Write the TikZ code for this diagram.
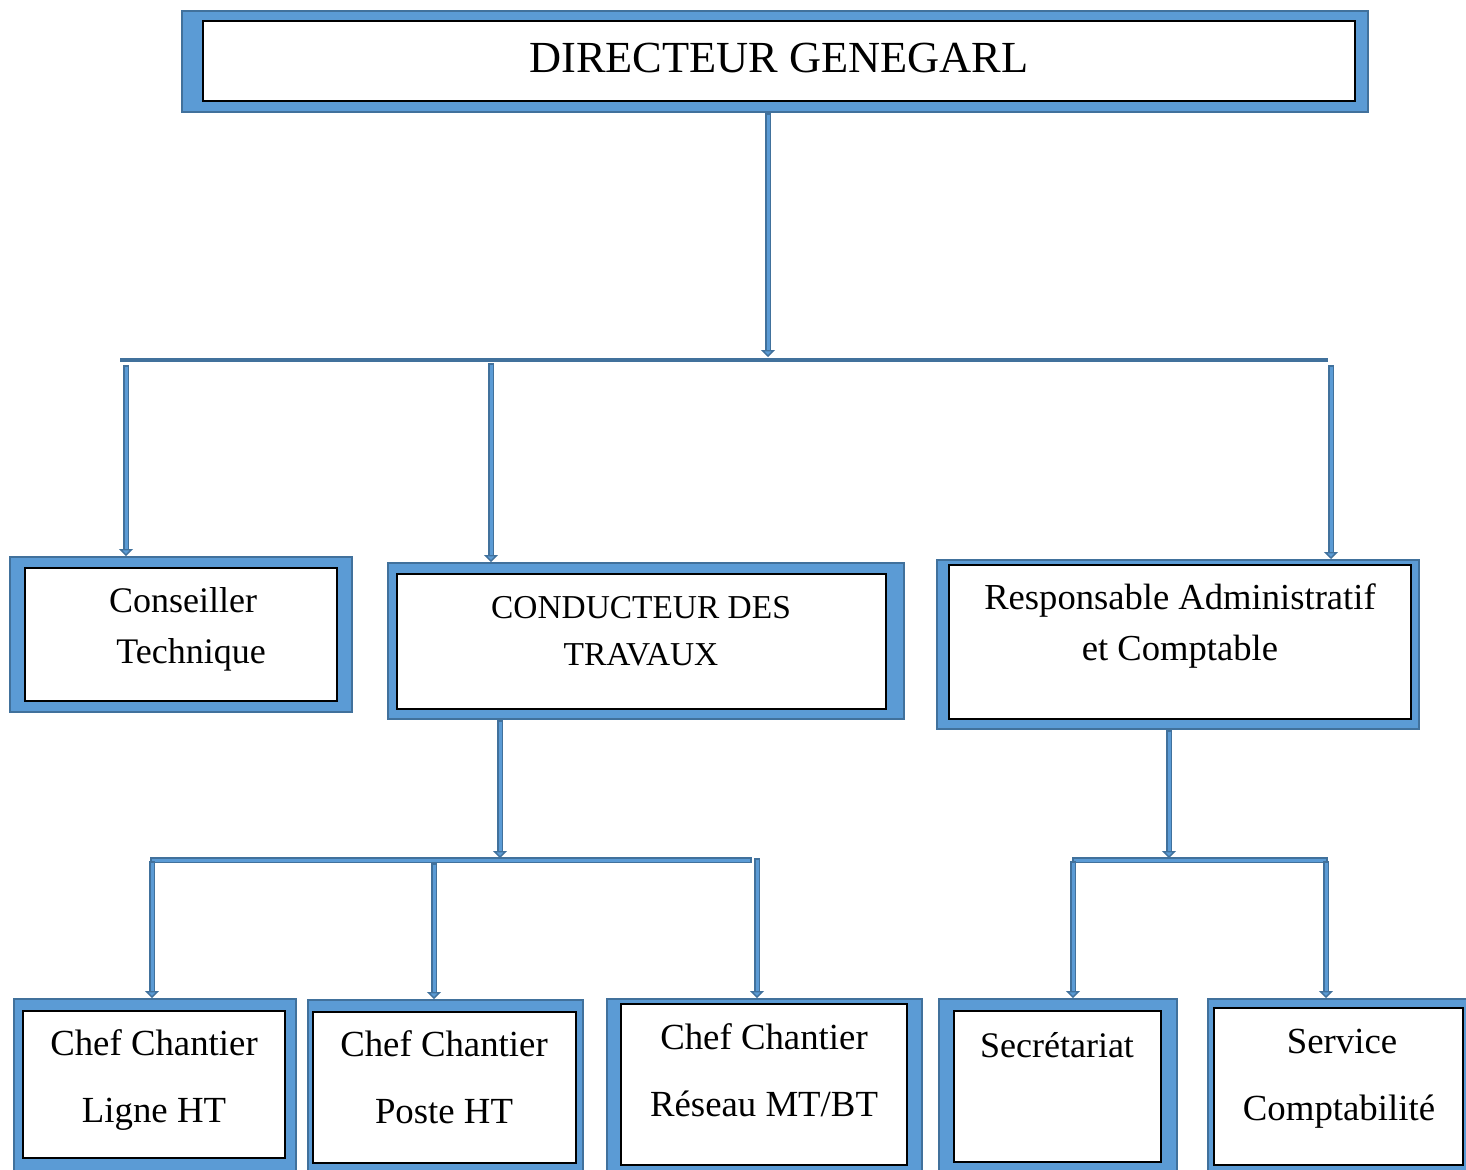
\documentclass[tikz,border=0pt]{standalone}
\usepackage{fontspec}
\setmainfont{Liberation Serif}
\usetikzlibrary{arrows.meta,fit}

\definecolor{bleu}{HTML}{5B9BD5}
\definecolor{bleufonce}{HTML}{41719C}

\tikzset{
  cadre/.style={fill=bleu, draw=bleufonce, line width=1pt, inner sep=0pt},
  boite/.style={fill=white, draw=black, line width=0.8pt, inner sep=0pt},
  texte/.style={align=center, font=\fontsize{18}{25.5}\selectfont},
  texteb/.style={align=center, font=\fontsize{18.4}{33.5}\selectfont},
  fleche/.style={draw=bleufonce, line width=3.4pt,
    -{Triangle[width=7pt,length=3.5pt,fill=bleu,line width=0.7pt]},
    postaction={draw=bleu, line width=1.5pt, -, shorten >=3.5pt, shorten <=0.8pt}},
  barre/.style={draw=bleufonce, line width=2.4pt},
  barred/.style={draw=bleufonce, line width=3.4pt,
    postaction={draw=bleu, line width=1.5pt, shorten <=0.8pt, shorten >=0.8pt}}
}

\begin{document}
\begin{tikzpicture}[x=0.5pt, y=-0.5pt]
        % Cadre de la page
        \useasboundingbox (0,0) rectangle (1466,1169);

        % Direction
        \node[cadre, fit={(182,11) (1368,112)}] (dg) {};
        \node[boite, fit={(203,21) (1355,101)}] (dg-in) {};
        \node[font=\fontsize{22.2}{27}\selectfont] (dg-t) at (779,58) {DIRECTEUR GENEGARL};

        % Deuxieme niveau
        \node[cadre, fit={(10,557) (352,712)}] (ct) {};
        \node[boite, fit={(25,568) (337,701)}] (ct-in) {};
        \node[texte] (ct-t) at (183,629) {Conseiller\\ \hspace*{8pt}Technique};

        \node[cadre, fit={(388,563) (904,719)}] (cdt) {};
        \node[boite, fit={(397,574) (886,709)}] (cdt-in) {};
        \node[texte, font=\fontsize{16.7}{23.5}\selectfont] (cdt-t) at (641,631) {CONDUCTEUR DES\\ TRAVAUX};

        \node[cadre, fit={(937,560) (1419,729)}] (rac) {};
        \node[boite, fit={(949,565) (1411,719)}] (rac-in) {};
        \node[texte, font=\fontsize{18.3}{25.5}\selectfont] (rac-t) at (1180,626) {Responsable Administratif\\ et Comptable};

        % Troisieme niveau
        \node[cadre, fit={(14,999) (296,1180)}] (ccl) {};
        \node[boite, fit={(23,1011) (285,1158)}] (ccl-in) {};
        \node[texteb] (ccl-t) at (154,1080) {Chef Chantier\\ Ligne HT};

        \node[cadre, fit={(308,1000) (583,1180)}] (ccp) {};
        \node[boite, fit={(313,1012) (576,1163)}] (ccp-in) {};
        \node[texteb] (ccp-t) at (444,1077) {Chef Chantier\\ Poste HT};

        \node[cadre, fit={(607,999) (922,1180)}] (ccr) {};
        \node[boite, fit={(621,1004) (907,1165)}] (ccr-in) {};
        \node[texteb] (ccr-t) at (764,1070) {Chef Chantier\\ Réseau MT/BT};

        \node[cadre, fit={(939,999) (1177,1180)}] (sec) {};
        \node[boite, fit={(954,1011) (1161,1162)}] (sec-in) {};
        \node[texte] (sec-t) at (1057,1045) {Secrétariat};

        \node[cadre, fit={(1208,999) (1470,1180)}] (scpt) {};
        \node[boite, fit={(1214,1008) (1463,1165)}] (scpt-in) {};
        \node[texteb] (scpt-t) at (1339,1079) {\hspace*{3pt}Service\\ Comptabilité};

        % Points de jonction
        \coordinate (j1) at (768,357);
        \coordinate (g1) at (120,360);
        \coordinate (d1) at (1328,360);
        \coordinate (a1) at (126,365);
        \coordinate (a2) at (491,363);
        \coordinate (a3) at (1331,365);

        \coordinate (j2) at (500,858);
        \coordinate (g2) at (150,860);
        \coordinate (d2) at (752,860);
        \coordinate (b1) at (152,861);
        \coordinate (b2) at (434,863);
        \coordinate (b3) at (757,858);

        \coordinate (j3) at (1169,858);
        \coordinate (g3) at (1072,860);
        \coordinate (d3) at (1328,860);
        \coordinate (c1) at (1073,861);
        \coordinate (c2) at (1326,861);

        % Liaisons
        \draw[fleche] (dg.south -| j1) -- (j1);
        \draw[barre] (g1) -- (d1);
        \draw[fleche] (a1) -- (a1 |- ct.north);
        \draw[fleche] (a2) -- (a2 |- cdt.north);
        \draw[fleche] (a3) -- (a3 |- rac.north);

        \draw[fleche] (cdt.south -| j2) -- (j2);
        \draw[barred] (g2) -- (d2);
        \draw[fleche] (b1) -- (b1 |- ccl.north);
        \draw[fleche] (b2) -- (b2 |- ccp.north);
        \draw[fleche] (b3) -- (b3 |- ccr.north);

        \draw[fleche] (rac.south -| j3) -- (j3);
        \draw[barred] (g3) -- (d3);
        \draw[fleche] (c1) -- (c1 |- sec.north);
        \draw[fleche] (c2) -- (c2 |- scpt.north);

    \end{tikzpicture}
\end{document}
